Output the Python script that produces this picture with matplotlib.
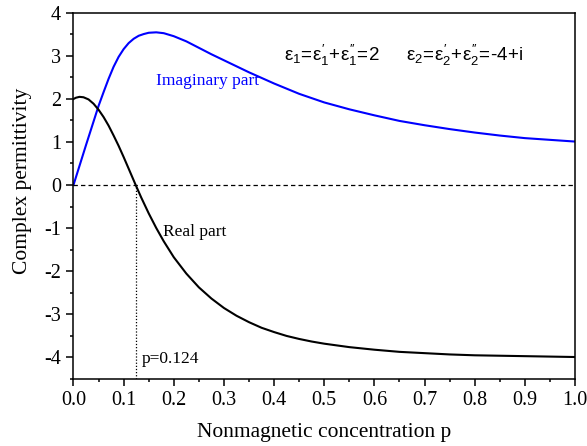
import matplotlib
matplotlib.use("Agg")
import matplotlib.pyplot as plt
from matplotlib.ticker import MultipleLocator

# values
p_real = [0.0, 0.005, 0.012, 0.02, 0.03, 0.04, 0.05, 0.06, 0.07, 0.08, 0.09,
          0.10, 0.11, 0.124, 0.135, 0.15, 0.165, 0.18, 0.20, 0.225, 0.25, 0.275,
          0.30, 0.325, 0.35, 0.375, 0.40, 0.425, 0.45, 0.475, 0.50, 0.55, 0.60,
          0.65, 0.70, 0.75, 0.80, 0.85, 0.90, 0.95, 1.0]
eps_real = [2.00, 2.03, 2.05, 2.04, 1.99, 1.89, 1.75, 1.58, 1.38, 1.15, 0.91,
            0.65, 0.38, 0.0, -0.29, -0.66, -1.00, -1.31, -1.68, -2.06, -2.38, -2.64,
            -2.86, -3.04, -3.19, -3.32, -3.42, -3.51, -3.58, -3.64, -3.69, -3.77, -3.83,
            -3.88, -3.91, -3.94, -3.96, -3.97, -3.98, -3.99, -4.00]

p_imag = [0.0, 0.025, 0.05, 0.06, 0.07, 0.08, 0.09, 0.10, 0.11, 0.12, 0.13,
          0.14, 0.15, 0.165, 0.18, 0.20, 0.225, 0.25, 0.275, 0.30, 0.325, 0.35,
          0.375, 0.40, 0.425, 0.45, 0.475, 0.50, 0.55, 0.60, 0.65, 0.70, 0.75,
          0.80, 0.85, 0.90, 0.95, 1.0]
eps_imag = [0.0, 0.93, 1.84, 2.16, 2.47, 2.75, 2.98, 3.16, 3.30, 3.40, 3.47,
            3.51, 3.54, 3.55, 3.53, 3.46, 3.34, 3.19, 3.04, 2.90, 2.76, 2.62,
            2.49, 2.36, 2.24, 2.12, 2.02, 1.92, 1.76, 1.62, 1.49, 1.39, 1.30,
            1.22, 1.15, 1.09, 1.05, 1.01]

p_cross = 0.124

plt.rcParams["font.family"] = ["Liberation Serif", "DejaVu Serif"]
plt.rcParams["axes.unicode_minus"] = False
plt.rcParams["mathtext.fontset"] = "custom"
plt.rcParams["mathtext.rm"] = "Liberation Sans"
plt.rcParams["mathtext.it"] = "Liberation Sans"

fig = plt.figure(figsize=(5.87, 4.46), dpi=100)
ax = fig.add_axes([0.1252, 0.1513, 0.8544, 0.8196])

ax.plot(p_imag, eps_imag, color="#0000ff", lw=1.5)
ax.plot(p_real, eps_real, color="black", lw=1.5)
ax.axhline(0, color="black", lw=0.9, ls=(0, (3.5, 2.5)))
ax.plot([p_cross, p_cross], [-4.5, 0], color="black", lw=0.9, ls=(0, (1, 1.5)))

ax.set_xlim(0, 1.0)
ax.set_ylim(-4.5, 4)
ax.xaxis.set_major_locator(MultipleLocator(0.1))
ax.xaxis.set_minor_locator(MultipleLocator(0.05))
ax.yaxis.set_major_locator(MultipleLocator(1))
ax.yaxis.set_minor_locator(MultipleLocator(0.5))
ax.set_xticklabels([f"{v:.1f}" for v in ax.get_xticks()])
ax.tick_params(which="major", direction="out", length=5, width=1.1, labelsize=14.5, pad=4)
ax.tick_params(which="minor", direction="out", length=2.5, width=1.1)
for s in ax.spines.values():
    s.set_linewidth(1.1)

ax.set_xlabel("Nonmagnetic concentration p", fontsize=15.5, labelpad=9)
ax.set_ylabel("Complex permittivity", fontsize=15.5)
ax.yaxis.set_label_coords(-0.083, 0.541)

ax.text(0.165, 2.33, "Imaginary part", color="#0000ff", fontsize=12.5)
ax.text(0.178, -1.18, "Real part", color="black", fontsize=12.5)
ax.text(0.136, -4.15, "p=0.124", color="black", fontsize=12.5)

ax.text(0.42, 2.88, r"$\varepsilon_1\!=\!\varepsilon_1^{\prime}\!+\!\varepsilon_1^{\prime\prime}\!=\!2$",
        fontsize=13.5, va="baseline")
ax.text(0.663, 2.88, r"$\varepsilon_2\!=\!\varepsilon_2^{\prime}\!+\!\varepsilon_2^{\prime\prime}\!=\!$-4+i",
        fontsize=13.5, va="baseline", family="Liberation Sans")

fig.savefig("out.png", dpi=100)
